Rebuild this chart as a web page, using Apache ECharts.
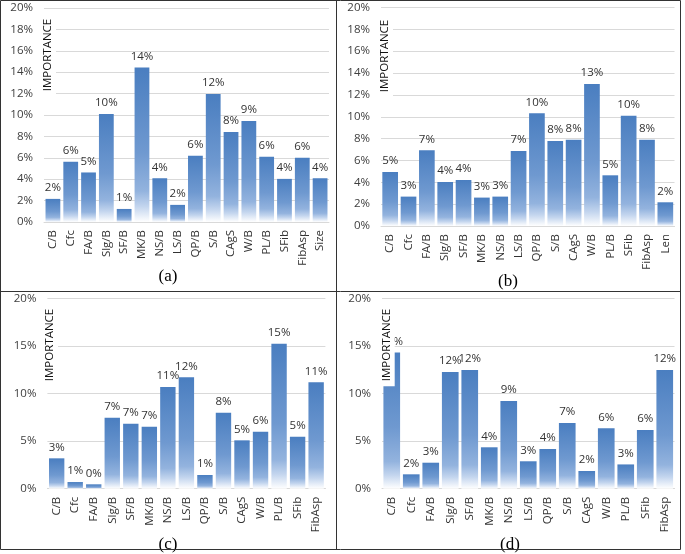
<!DOCTYPE html>
<html>
<head>
<meta charset="utf-8">
<script src="https://cdn.jsdelivr.net/npm/echarts@6/dist/echarts.min.js"></script>
<style>html,body{margin:0;padding:0;background:#fff}#c{width:685px;height:554px}</style>
</head>
<body>
<div id="c"></div>
<script>
// ---- data ----
const catsA = ['C/B','Cfc','FA/B','Slg/B','SF/B','MK/B','NS/B','LS/B','QP/B','S/B','CAgS','W/B','PL/B','SFib','FibAsp','Size'];
const valsA = [2.16,5.63,4.63,10.09,1.22,14.45,4.09,1.6,6.19,11.97,8.4,9.44,6.09,4.03,6.0,4.09];
const catsB = ['C/B','Cfc','FA/B','Slg/B','SF/B','MK/B','NS/B','LS/B','QP/B','S/B','CAgS','W/B','PL/B','SFib','FibAsp','Len'];
const valsB = [4.94,2.69,6.93,4.03,4.21,2.6,2.69,6.86,10.31,7.78,7.9,12.99,4.64,10.1,7.9,2.17];
const catsC = ['C/B','Cfc','FA/B','Slg/B','SF/B','MK/B','NS/B','LS/B','QP/B','S/B','CAgS','W/B','PL/B','SFib','FibAsp'];
const valsC = [3.19,0.70,0.46,7.46,6.83,6.51,10.68,11.7,1.44,7.98,5.08,5.99,15.23,5.46,11.18];
const catsD = ['C/B','Cfc','FA/B','Slg/B','SF/B','MK/B','NS/B','LS/B','QP/B','S/B','CAgS','W/B','PL/B','SFib','FibAsp'];
const valsD = [14.3,1.51,2.73,12.26,12.47,4.35,9.21,2.88,4.17,6.9,1.86,6.34,2.55,6.17,12.47];
const yMaxes = [20, 20, 20, 20];
const yIntervals = [2, 2, 5, 5];
const captions = ['(a)', '(b)', '(c)', '(d)'];
const yTitle = 'IMPORTANCE';

// ---- layout / style ----
const FONT = 'Open Sans';
const grids = [
  {left: 44, top: 8, width: 285, height: 214},
  {left: 381, top: 7.5, width: 293.5, height: 218.5},
  {left: 47.4, top: 298.3, width: 278, height: 190.4},
  {left: 382, top: 298.3, width: 292.5, height: 190.4}
];
const gaps = ['17%', '14.5%', '17%', '14.5%'];
const capPos = [[168, 277], [508, 282], [168, 545], [510, 545]];
const titlePos = [[48, 55], [385, 56], [50, 345], [386.7, 345]];
const cats = [catsA, catsB, catsC, catsD];
const vals = [valsA, valsB, valsC, valsD];

const barColor = {
  type: 'linear', x: 0, y: 0, x2: 0, y2: 1,
  colorStops: [
    {offset: 0, color: '#4a7ec0'},
    {offset: 0.55, color: '#6f99d0'},
    {offset: 0.8, color: '#93b3de'},
    {offset: 0.9, color: '#c3d5ee'},
    {offset: 1, color: '#ffffff'}
  ]
};

const xAxis = [], yAxis = [], series = [], graphic = [];
for (let i = 0; i < 4; i++) {
  xAxis.push({
    type: 'category', gridIndex: i, data: cats[i],
    axisLine: {show: true, lineStyle: {color: '#d9d9d9', width: 1}},
    axisTick: {show: false},
    axisLabel: {rotate: 90, margin: 8, interval: 0, color: '#333', fontFamily: FONT, fontSize: 11.5}
  });
  yAxis.push({
    type: 'value', gridIndex: i, min: 0, max: yMaxes[i], interval: yIntervals[i],
    axisLine: {show: false}, axisTick: {show: false},
    splitLine: {lineStyle: {color: '#d9d9d9', width: 1}},
    axisLabel: {formatter: '{value}%', margin: 11, color: '#404040', fontFamily: FONT, fontSize: 11.5}
  });
  series.push({
    type: 'bar', xAxisIndex: i, yAxisIndex: i, data: vals[i],
    barCategoryGap: gaps[i],
    itemStyle: {color: barColor},
    label: {show: true, position: 'top', distance: 5, color: '#333', fontFamily: FONT, fontSize: 11.5,
      formatter: p => Math.round(p.value) + '%'}
  });
  graphic.push({
    type: 'text', x: titlePos[i][0], y: titlePos[i][1], rotation: Math.PI / 2, z: 100,
    style: {text: yTitle, fontFamily: FONT, fontSize: 11.5, lineHeight: 14, fill: '#111',
      align: 'center', verticalAlign: 'middle', backgroundColor: '#ffffff', padding: [1, 5]}
  });
  graphic.push({
    type: 'text', x: capPos[i][0], y: capPos[i][1], z: 100,
    style: {text: captions[i], fontFamily: 'Liberation Serif', fontSize: 17, fill: '#000',
      align: 'center', verticalAlign: 'middle'}
  });
}
// panel borders
const bs = {stroke: '#333', lineWidth: 1};
[[0.5, 0.5, 680.5, 0.5], [0.5, 549.5, 680.5, 549.5], [0.5, 0.5, 0.5, 549.5], [680.5, 0.5, 680.5, 549.5],
 [336.5, 0.5, 336.5, 549.5], [0.5, 291.5, 680.5, 291.5]].forEach(s => {
  graphic.push({type: 'line', z: 100, shape: {x1: s[0], y1: s[1], x2: s[2], y2: s[3]}, style: bs});
});

const chart = echarts.init(document.getElementById('c'));
chart.setOption({
  animation: false,
  grid: grids,
  xAxis, yAxis, series, graphic
});
</script>
</body>
</html>
